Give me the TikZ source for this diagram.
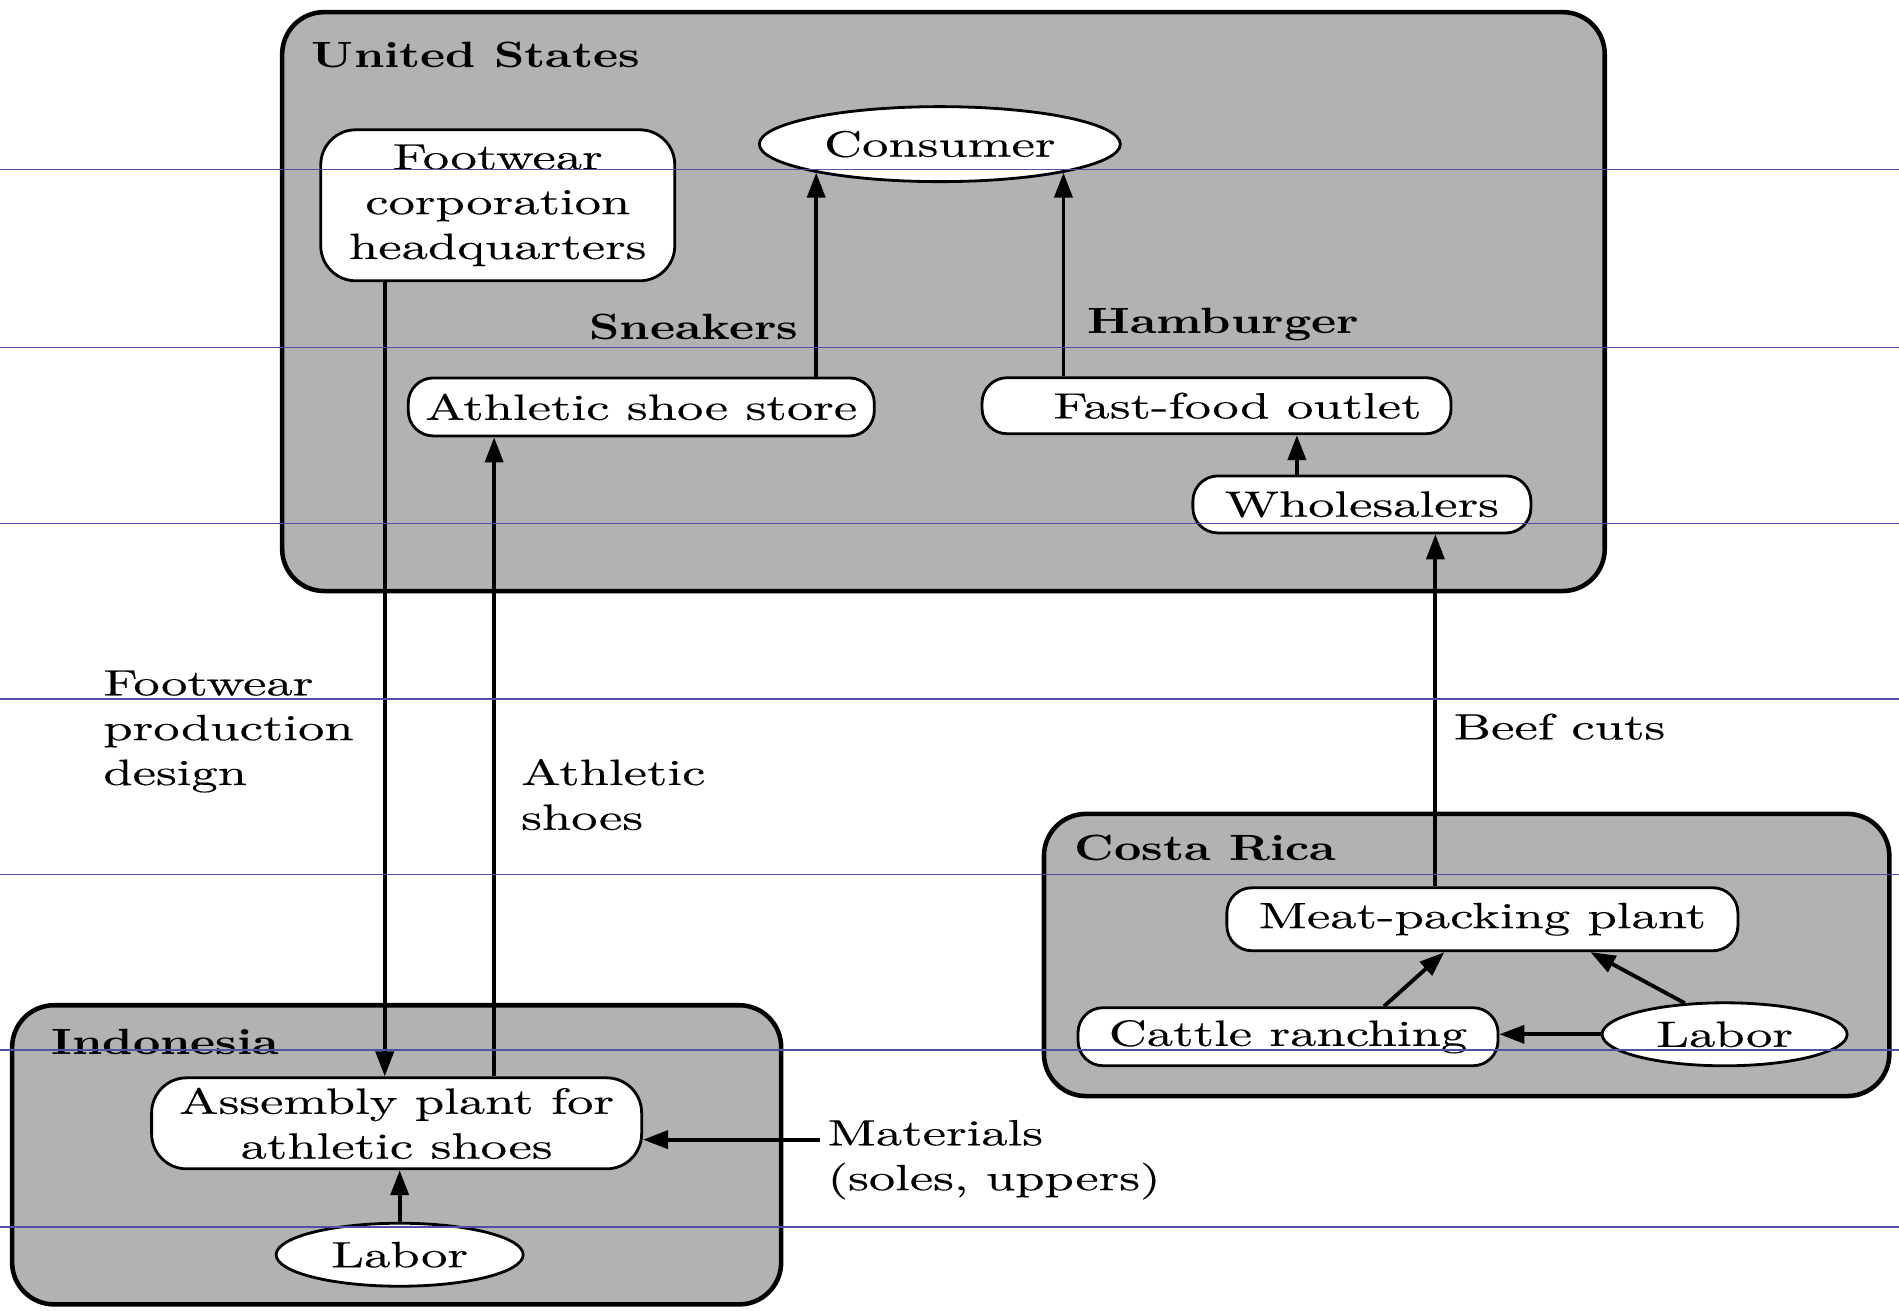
\documentclass[tikz,border=0pt]{standalone}
\usepackage{fontspec}
\setmainfont{lmroman10-regular.otf}[FakeStretch=1.44,FakeBold=0.3]
\newfontfamily\regionfont{lmroman10-bold.otf}[FakeStretch=1.3]
\usetikzlibrary{backgrounds}
\usetikzlibrary{shapes.geometric}
\usetikzlibrary{arrows.meta}
\newcommand{\pxu}{0.12111mm}
\newcommand{\bodysize}{\fontsize{10.4}{12.75}\selectfont}
\newcommand{\rgncrn}{0.42cm}
\definecolor{ruleblue}{RGB}{80,80,165}

\begin{document}
\begin{tikzpicture}[x=\pxu,y=-\pxu,font=\bodysize,
    box/.style={draw,fill=white,line width=0.8pt,rounded corners=0.25cm,
      inner sep=0pt,align=center},
    oval/.style={draw,fill=white,line width=0.8pt,ellipse,inner sep=0pt},
    region/.style={draw,fill=black!30,line width=1.3pt,rounded corners=\rgncrn},
    rgnname/.style={anchor=west,inner sep=0pt,font=\regionfont\bodysize},
    goods/.style={inner sep=0pt,font=\regionfont\bodysize},
    note/.style={anchor=west,align=left,inner sep=2pt},
    flow/.style={line width=1.1pt,-{Triangle[length=2.5mm,width=1.8mm]}},
    ruling/.style={draw=ruleblue,line width=0.4pt}]
    \useasboundingbox (0,0) rectangle (1568,1082);

    % United States
    \node[rgnname] (us) at (257,45) {United States};
    \node[box,rounded corners=0.35cm,minimum width=3.54cm,minimum height=1.51cm]
      (hq) at (411,169.5) {Footwear\\corporation\\headquarters};
    \node[oval,minimum width=3.61cm,minimum height=0.75cm]
      (consumer) at (776,119) {Consumer};
    \node[goods] (sneakers) at (573,270) {Sneakers};
    \node[goods] (hamburger) at (1010,268) {Hamburger};
    \node[box,minimum width=4.66cm,minimum height=0.58cm]
      (shop) at (529.5,336) {Athletic shoe store};
    \node[box,minimum width=4.69cm,minimum height=0.56cm]
      (outlet) at (1004.5,335) {\hspace*{0.42cm}Fast-food outlet};
    \node[box,minimum width=3.38cm,minimum height=0.57cm]
      (whole) at (1124.5,416.5) {Wholesalers};

    % Costa Rica
    \node[rgnname] (cr) at (887,700) {Costa Rica};
    \node[box,minimum width=5.11cm,minimum height=0.63cm]
      (meat) at (1224,759) {Meat-packing plant};
    \node[box,minimum width=4.20cm,minimum height=0.58cm]
      (cattle) at (1063.5,856) {Cattle ranching};
    \node[oval,minimum width=2.45cm,minimum height=0.63cm]
      (labcr) at (1424,854) {Labor};

    % Indonesia
    \node[rgnname] (id) at (42,860) {Indonesia};
    \node[box,rounded corners=0.35cm,minimum width=4.90cm,minimum height=0.91cm]
      (asm) at (327.5,927.5) {Assembly plant for\\athletic shoes};
    \node[oval,minimum width=2.47cm,minimum height=0.63cm]
      (labid) at (330,1036) {Labor};

    % flow labels
    \node[note] (design) at (79,604) {Footwear\\production\\design};
    \node[note] (shoes) at (424,656) {Athletic\\shoes};
    \node[note] (beef) at (1194,600) {Beef cuts};
    \node[note] (mat) at (677,957.5) {Materials\\(soles, uppers)};

    \begin{scope}[on background layer]
      \draw[region] (233,10) rectangle (1325,488);
      \draw[region] (862,672) rectangle (1560,905);
      \draw[region] (10,830) rectangle (645,1077);
    \end{scope}

    \draw[flow] (shop.north -| consumer.193) -- (consumer.193);
    \draw[flow] (outlet.north -| consumer.347) -- (consumer.347);
    \draw[flow] ([xshift=-0.65cm]whole.north) -- ([xshift=-0.65cm]whole.north |- outlet.south);
    \draw[flow] ([xshift=-1.13cm]hq.south) -- ([xshift=-1.13cm]hq.south |- asm.north);
    \draw[flow] ([xshift=0.975cm]asm.north) -- ([xshift=0.975cm]asm.north |- shop.south);
    \draw[flow] ([xshift=-0.47cm]meat.north) -- ([xshift=-0.47cm]meat.north |- whole.south);
    \draw[flow] ([xshift=0.96cm]cattle.north) -- ([xshift=-0.38cm]meat.south);
    \draw[flow] (labcr.142) -- ([xshift=1.08cm]meat.south);
    \draw[flow] (labcr.west) -- (labcr.west -| cattle.east);
    \draw[flow] (labid.north) -- (labid.north |- asm.south);
    \draw[flow] ([yshift=0.2cm]mat.west) -- ([yshift=0.2cm]mat.west -| asm.east);

    \foreach \ry in {140,287,432,577,722,867,1013}
      \draw[ruling] (0,\ry) -- (1568,\ry);
  \end{tikzpicture}
\end{document}
